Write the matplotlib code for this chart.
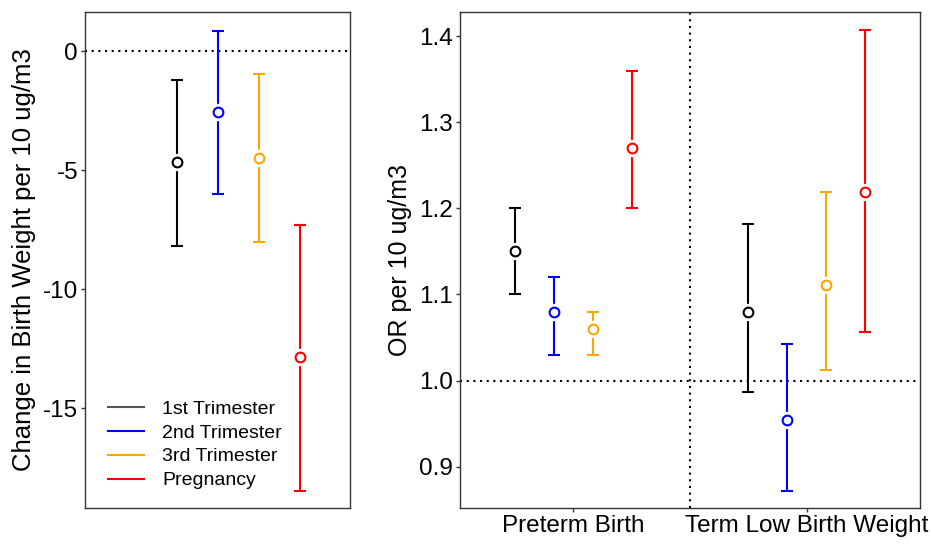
import numpy as np
import matplotlib
matplotlib.use("Agg")
import matplotlib.pyplot as plt

plt.rcParams['font.family'] = ['Liberation Sans', 'DejaVu Sans']

# exposure windows
windows = ['1st Trimester', '2nd Trimester', '3rd Trimester', 'Pregnancy']
colors = ['black', 'blue', 'orange', 'red']

# left panel: change in birth weight
bw_est = [-4.66, -2.56, -4.47, -12.85]
bw_low = [-8.16, -5.99, -8.00, -18.46]
bw_high = [-1.18, 0.88, -0.94, -7.31]

# right panel: odds ratios
outcomes = ['Preterm Birth', 'Term Low Birth Weight']
or_est = [[1.150, 1.080, 1.060, 1.270],
          [1.080, 0.954, 1.111, 1.219]]
or_low = [[1.100, 1.030, 1.030, 1.200],
          [0.987, 0.872, 1.012, 1.056]]
or_high = [[1.200, 1.120, 1.080, 1.360],
           [1.182, 1.042, 1.219, 1.407]]

fig = plt.figure(figsize=(9.32, 5.48), dpi=100)
ax1 = fig.add_axes([0.0912, 0.0730, 0.2843, 0.9051])
ax2 = fig.add_axes([0.4936, 0.0730, 0.4936, 0.9051])

dotted = (0, (1, 2.2))


def draw_point(ax, x, est, lo, hi, c):
    ax.errorbar([x], [est], yerr=[[est - lo], [hi - est]], fmt='none',
                ecolor=c, elinewidth=1.5, capsize=4, capthick=1.5, zorder=2)
    # white halo so the bar stops short of the circle
    ax.plot([x], [est], 'o', ms=12.5, mfc='white', mec='none', zorder=3)
    ax.plot([x], [est], 'o', ms=7, mfc='white', mec=c, mew=1.5, zorder=4)


# left panel
for i in range(4):
    draw_point(ax1, i + 1, bw_est[i], bw_low[i], bw_high[i], colors[i])
ax1.axhline(0, color='black', lw=1.5, ls=dotted, zorder=1)
ax1.set_xlim(-1.23, 5.22)
ax1.set_ylim(-19.19, 1.66)
ax1.set_xticks([])
ax1.set_yticks([0, -5, -10, -15])
ax1.set_yticklabels(['0', '-5', '-10', '-15'])
ax1.set_ylabel('Change in Birth Weight per 10 ug/m3', fontsize=18.5, labelpad=5)

handles = [plt.Line2D([], [], color=c, lw=1.5) for c in colors]
handles[0].set_color('#555555')
ax1.legend(handles, windows, loc='lower left', bbox_to_anchor=(0.057, 0.022),
           borderaxespad=0, frameon=False, fontsize=14, handlelength=1.86,
           handletextpad=0.93, labelspacing=0.32)

# right panel
offsets = [-0.25, -0.083, 0.083, 0.25]
for j in range(2):
    for i in range(4):
        draw_point(ax2, j + 1 + offsets[i], or_est[j][i], or_low[j][i],
                   or_high[j][i], colors[i])
ax2.axhline(1.0, color='black', lw=1.5, ls=dotted, zorder=1)
ax2.axvline(1.5, color='black', lw=1.5, ls=dotted, zorder=1)
ax2.set_xlim(0.515, 2.485)
ax2.set_ylim(0.852, 1.428)
ax2.set_xticks([1, 2])
ax2.set_xticklabels(outcomes)
ax2.set_yticks([0.9, 1.0, 1.1, 1.2, 1.3, 1.4])
ax2.set_yticklabels(['0.9', '1.0', '1.1', '1.2', '1.3', '1.4'])
ax2.set_ylabel('OR per 10 ug/m3', fontsize=18, labelpad=5)

for ax in (ax1, ax2):
    for s in ax.spines.values():
        s.set_color('#333333')
        s.set_linewidth(1)
    ax.tick_params(length=3, width=1, color='#333333', labelsize=17.5,
                   labelcolor='black', pad=2)

fig.savefig('out.png', dpi=100)
